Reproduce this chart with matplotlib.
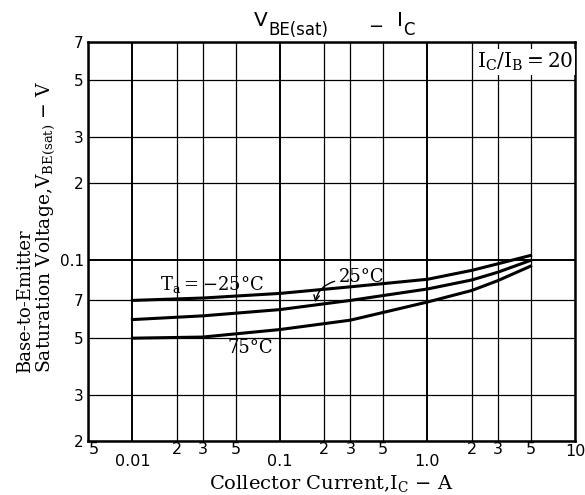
import matplotlib.pyplot as plt
import matplotlib.ticker as mticker
import numpy as np

# collector current (A) and V_BE(sat) (V)
ic = [0.01, 0.03, 0.1, 0.3, 1.0, 2.0, 3.0, 5.0]
vbe_m25 = [0.70, 0.715, 0.745, 0.79, 0.845, 0.915, 0.97, 1.045]
vbe_25 = [0.59, 0.61, 0.645, 0.70, 0.775, 0.84, 0.90, 1.0]
vbe_75 = [0.50, 0.505, 0.54, 0.587, 0.69, 0.765, 0.835, 0.95]

xgrid = [0.005, 0.01, 0.02, 0.03, 0.05, 0.1, 0.2, 0.3, 0.5, 1.0, 2, 3, 5, 10]
ygrid = [0.2, 0.3, 0.5, 0.7, 1.0, 2, 3, 5, 7]
ylabels = ['2', '3', '5', '7', '0.1', '2', '3', '5', '7']

serif = 'DejaVu Serif'
W, H = 585, 495

fig = plt.figure(figsize=(5.85, 4.95), dpi=100)
ax = fig.add_axes([88/W, 1 - 441/H, (575 - 88)/W, (441 - 42)/H])
ax.set_xscale('log')
ax.set_yscale('log')
ax.set_xlim(0.005, 10)
ax.set_ylim(0.2, 7)

for x in xgrid:
	lw = 1.4 if x in (0.01, 0.1, 1.0) else 0.9
	ax.axvline(x, color='black', lw=lw, zorder=1)
for y in ygrid:
	lw = 1.4 if y == 1.0 else 0.9
	ax.axhline(y, color='black', lw=lw, zorder=1)

for v in (vbe_m25, vbe_25, vbe_75):
	ax.plot(ic, v, color='black', lw=2.2, zorder=3)

for s in ax.spines.values():
	s.set_linewidth(1.8)

ax.xaxis.set_major_locator(mticker.NullLocator())
ax.xaxis.set_minor_locator(mticker.NullLocator())
ax.yaxis.set_major_locator(mticker.FixedLocator(ygrid))
ax.yaxis.set_minor_locator(mticker.NullLocator())
ax.set_yticklabels(ylabels, fontsize=11)
ax.tick_params(axis='y', length=0, pad=3)

# x tick labels placed by hand: minor ones sit higher than the decade ones
tr = ax.get_xaxis_transform()
def ypix(p):
	return -(p - 441) / 399.0
for x, lab in [(0.0055, '5'), (0.02, '2'), (0.03, '3'), (0.05, '5'),
		(0.2, '2'), (0.3, '3'), (0.5, '5'), (2, '2'), (3, '3'), (5, '5')]:
	ax.text(x, ypix(450), lab, transform=tr, ha='center', va='center', fontsize=11.5)
for x, lab in [(0.01, '0.01'), (0.1, '0.1'), (1.0, '1.0'), (10, '10')]:
	yy = ypix(462) if x != 10 else ypix(452)
	ax.text(x, yy, lab, transform=tr, ha='center', va='center', fontsize=11.5)

ax.text(0.0155, 0.805, r'$\mathregular{T_a = -25°C}$', fontsize=13, family=serif,
	va='center', ha='left', zorder=4)
ax.text(0.25, 0.86, '25°C', fontsize=13, family=serif, va='center', ha='left', zorder=4)
ax.annotate('', xy=(0.172, 0.672), xytext=(0.245, 0.835),
	arrowprops=dict(arrowstyle='->', color='black', lw=1.0,
		connectionstyle='arc3,rad=0.35'), zorder=4)
ax.text(0.044, 0.46, '75°C', fontsize=13, family=serif, va='center', ha='left', zorder=4)

ax.text(0.996, 0.978, r'$\mathregular{I_C/I_B = 20}$', transform=ax.transAxes,
	fontsize=14.5, family=serif, ha='right', va='top', zorder=4,
	bbox=dict(facecolor='white', edgecolor='none', pad=1.5))

# title in pieces so the subscripts stay large
fig.text(254/W, 1 - 21/H, 'V', fontsize=14.5, ha='left', va='center')
fig.text(268/W, 1 - 30/H, 'BE(sat)', fontsize=12, ha='left', va='center')
fig.text(376/W, 1 - 27/H, '−', fontsize=13, ha='center', va='center')
fig.text(397/W, 1 - 21/H, 'I', fontsize=14.5, ha='left', va='center')
fig.text(403/W, 1 - 30/H, 'C', fontsize=12, ha='left', va='center')

fig.text(331/W, 1 - 483/H, r'Collector Current,$\mathregular{I_C}$ $-$ A',
	fontsize=14, family=serif, ha='center', va='center')
fig.text(25/W, 1 - 373/H, 'Base-to-Emitter', rotation=90, rotation_mode='anchor',
	fontsize=13, family=serif, ha='left', va='center')
fig.text(46/W, 1 - 373/H, r'Saturation Voltage,$\mathregular{V_{BE(sat)}}$ $-$ V',
	rotation=90, rotation_mode='anchor', fontsize=13.5, family=serif,
	ha='left', va='center')

fig.savefig('out.png', dpi=100)
